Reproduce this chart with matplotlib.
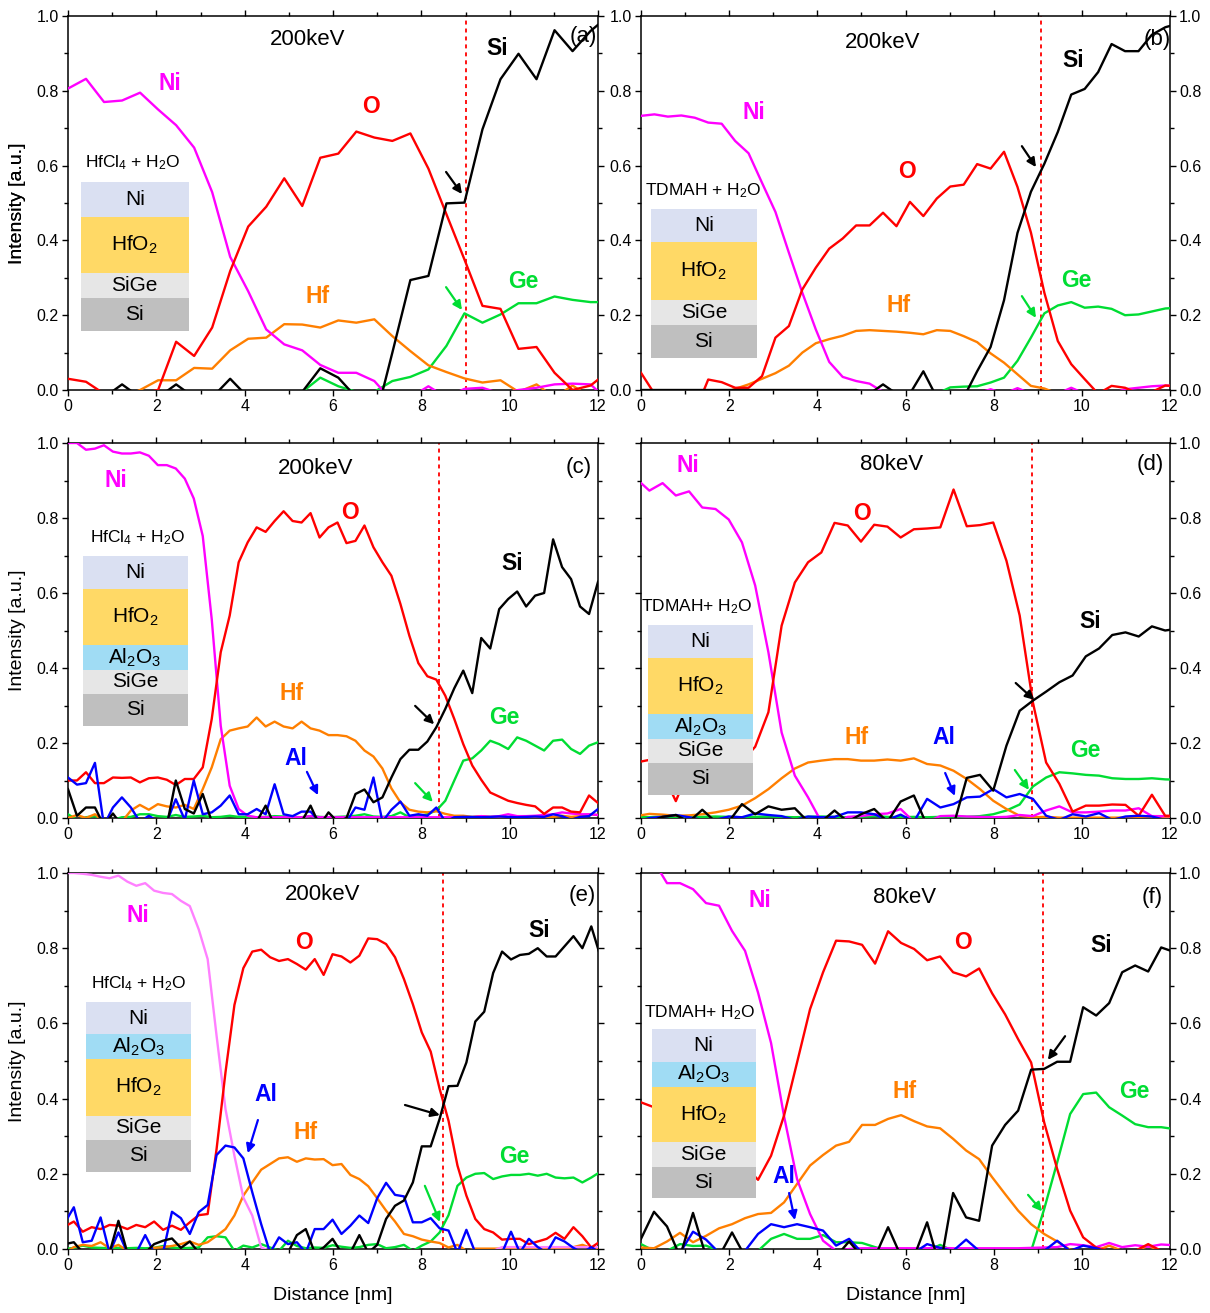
import numpy as np
import matplotlib
matplotlib.use('Agg')
import matplotlib.pyplot as plt
from matplotlib.patches import Rectangle
from matplotlib.ticker import MultipleLocator

plt.rcParams['font.family'] = ['Liberation Sans', 'DejaVu Sans']
plt.rcParams['mathtext.fontset'] = 'custom'
plt.rcParams['mathtext.rm'] = 'Liberation Sans'
plt.rcParams['mathtext.default'] = 'regular'

# ---------------- data ----------------
# (a) HfCl4, 200 keV ; sampling step 0.408 nm
a_step, a_off = 0.408, 0.0
a_ni = [0.806,0.832,0.770,0.774,0.795,0.750,0.708,0.648,0.529,0.356,
        0.264,0.162,0.122,0.106,0.067,0.046,0.046,0.024,-0.03,-0.02,
        0.010,-0.02,0.003,0.006,-0.01,0.000,0.006,0.015,0.017,0.015,-0.03]
a_o = [0.030,0.022,-0.01,-0.01,-0.01,0.000,0.129,0.091,0.167,0.318,
       0.437,0.490,0.566,0.492,0.621,0.632,0.691,0.675,0.666,0.686,
       0.592,0.470,0.349,0.225,0.217,0.110,0.115,0.046,0.000,0.012,0.050]
a_hf = [-0.02,-0.02,-0.02,-0.02,0.000,0.026,0.026,0.059,0.057,0.106,
        0.137,0.140,0.176,0.175,0.167,0.186,0.180,0.189,0.144,0.104,
        0.066,0.048,0.031,0.020,0.026,-0.005,0.015,-0.02,0.012,-0.02,-0.02]
a_si = [-0.02,-0.02,-0.02,0.015,-0.02,-0.02,0.015,-0.02,-0.02,0.030,
        -0.02,-0.02,-0.02,-0.005,0.058,0.033,-0.02,-0.09,0.100,0.294,
        0.305,0.499,0.501,0.697,0.831,0.899,0.831,0.962,0.906,0.960,1.000]
a_ge = [-0.02,-0.02,-0.02,-0.02,-0.02,-0.02,-0.02,-0.02,-0.02,-0.02,
        -0.02,-0.02,-0.02,-0.005,0.033,0.010,-0.005,-0.005,0.024,0.035,
        0.055,0.118,0.205,0.180,0.202,0.232,0.232,0.250,0.241,0.235,0.235]

# (b) TDMAH, 200 keV ; step 0.305 nm
b_step, b_off = 0.305, 0.0
b_ni = [0.733,0.737,0.731,0.734,0.728,0.715,0.712,0.666,0.633,0.554,
        0.476,0.367,0.260,0.162,0.075,0.035,0.024,0.017,-0.005,-0.01,
        -0.01,-0.01,-0.01,-0.01,-0.01,-0.01,0.002,-0.01,0.005,-0.01,
        -0.01,-0.01,0.006,-0.01,-0.01,-0.01,0.002,0.006,0.010,0.012,0.010]
b_o = [0.046,-0.01,-0.02,-0.02,-0.06,0.028,0.021,0.006,0.006,0.037,
       0.140,0.171,0.269,0.327,0.378,0.405,0.440,0.440,0.474,0.438,
       0.503,0.465,0.512,0.544,0.549,0.604,0.592,0.637,0.543,0.421,
       0.260,0.131,0.069,0.029,-0.01,0.011,0.006,-0.01,-0.005,0.012,0.010]
b_hf = [-0.01,-0.01,-0.01,-0.01,-0.01,-0.01,-0.01,0.003,0.015,0.030,
        0.045,0.065,0.100,0.125,0.136,0.145,0.158,0.160,0.158,0.156,
        0.153,0.149,0.160,0.158,0.144,0.128,0.098,0.073,0.042,0.011,
        0.004,-0.01,-0.01,-0.01,-0.01,-0.01,-0.01,-0.01,-0.01,-0.01,-0.01]
b_si = [0.0,0.0,0.0,0.0,0.0,0.0,0.0,0.0,0.0,0.0,
        0.0,0.0,0.0,0.0,0.0,0.0,0.0,-0.01,0.015,-0.01,
        -0.01,0.050,-0.02,-0.02,-0.02,0.050,0.115,0.240,0.420,0.530,
        0.605,0.690,0.790,0.805,0.850,0.925,0.906,0.906,0.950,0.970,0.980]
b_ge = [-0.01,-0.01,-0.01,-0.01,-0.01,-0.01,-0.01,-0.01,-0.01,-0.01,
        -0.01,-0.01,-0.01,-0.01,-0.01,-0.01,-0.01,-0.01,-0.01,-0.01,
        -0.01,-0.01,-0.01,0.007,0.009,0.010,0.020,0.033,0.078,0.140,
        0.205,0.226,0.235,0.220,0.223,0.217,0.200,0.202,0.210,0.218,0.220]

# (c) HfCl4 + Al2O3, 200 keV ; step 0.2034 nm
c_step, c_off = 0.2034, 0.0
c_ni = [1.000,1.000,0.982,0.985,0.994,0.977,0.972,0.972,0.975,0.966,
        0.941,0.941,0.932,0.905,0.852,0.752,0.530,0.246,0.086,0.024,
        0.006,0.002,0.002,0.002,0.002,0.002,0.002,0.005,0.002,0.002,
        0.002,0.002,0.002,0.002,0.002,0.002,0.002,0.002,0.002,0.002,
        0.002,0.002,0.002,0.002,0.002,0.002,0.005,0.003,0.005,0.010,
        0.005,0.005,0.006,0.008,0.010,0.015,0.012,0.010,0.010,0.008]
c_o = [0.100,0.100,0.122,0.093,0.093,0.108,0.107,0.108,0.095,0.106,
       0.108,0.102,0.088,0.104,0.104,0.135,0.264,0.442,0.540,0.682,
       0.735,0.775,0.763,0.792,0.818,0.792,0.788,0.813,0.748,0.775,
       0.788,0.733,0.739,0.780,0.722,0.682,0.646,0.571,0.486,0.413,
       0.378,0.369,0.326,0.264,0.197,0.140,0.102,0.068,0.057,0.046,
       0.040,0.035,0.031,0.011,0.028,0.028,0.017,0.015,0.060,0.040]
c_hf = [0.000,0.008,0.000,0.010,-0.01,-0.01,-0.01,0.020,0.035,0.022,
        0.037,0.031,0.028,0.035,0.024,0.077,0.135,0.210,0.233,0.239,
        0.244,0.268,0.244,0.257,0.244,0.239,0.257,0.239,0.233,0.221,
        0.221,0.218,0.206,0.180,0.164,0.132,0.079,0.042,0.022,0.017,
        0.015,0.018,0.011,0.006,0.006,0.003,0.005,0.003,0.003,0.002,
        0.003,0.003,0.002,0.003,0.003,0.006,0.003,0.005,0.010,0.008]
c_si = [0.077,0.006,0.028,0.028,-0.02,0.012,-0.02,-0.02,-0.02,-0.02,
        -0.02,-0.02,0.100,0.024,0.012,0.064,-0.01,-0.01,-0.01,-0.01,
        -0.01,-0.01,0.033,-0.02,-0.01,-0.01,-0.01,0.033,-0.02,0.015,
        -0.01,0.000,0.064,0.076,0.042,0.055,0.108,0.157,0.182,0.182,
        0.204,0.242,0.291,0.346,0.393,0.333,0.480,0.452,0.557,0.584,
        0.604,0.564,0.593,0.600,0.743,0.669,0.637,0.564,0.544,0.630]
c_al = [0.108,0.089,0.093,0.147,-0.02,0.028,0.055,0.028,-0.01,0.006,
        -0.01,-0.01,0.050,-0.005,0.100,0.010,0.015,0.033,0.060,0.010,
        0.010,0.024,0.010,0.090,0.010,0.005,0.017,0.017,-0.01,-0.01,
        -0.01,-0.01,0.028,0.022,0.108,-0.01,0.022,0.044,0.006,0.010,
        0.006,0.028,-0.01,0.002,0.003,0.003,0.002,0.003,0.004,0.003,
        0.002,0.003,0.004,0.003,0.010,0.005,-0.005,0.003,0.005,0.024]
c_ge = [0.010,-0.005,0.002,0.005,-0.005,-0.005,0.002,0.003,0.010,0.010,
        0.005,0.003,0.008,0.003,0.004,0.006,0.002,0.003,0.006,0.003,
        0.003,0.002,0.003,0.005,0.004,0.003,0.002,0.005,0.003,0.002,
        0.003,0.004,0.006,0.010,0.004,0.003,0.005,0.015,0.002,0.005,
        0.010,0.020,0.046,0.100,0.153,0.159,0.180,0.206,0.197,0.184,
        0.215,0.206,0.193,0.180,0.206,0.209,0.184,0.171,0.193,0.202]

# (d) TDMAH + Al2O3, 80 keV ; step 0.3 nm, first sample at -0.11 nm
d_step, d_off = 0.3, -0.11
d_ni = [0.905,0.873,0.893,0.860,0.871,0.828,0.824,0.796,0.735,0.620,
        0.442,0.228,0.113,0.055,-0.01,-0.01,0.003,0.005,0.010,0.012,
        0.024,-0.01,-0.01,0.005,0.006,0.004,0.003,0.002,0.003,0.008,
        0.005,0.020,0.031,0.015,0.015,0.017,0.020,0.020,0.026,0.005,0.005,0.005]
d_o = [0.148,0.155,0.120,0.045,0.130,0.120,0.130,0.140,0.150,0.190,
       0.282,0.513,0.628,0.682,0.708,0.787,0.780,0.737,0.782,0.777,
       0.748,0.770,0.772,0.775,0.876,0.778,0.781,0.788,0.686,0.540,
       0.308,0.148,0.091,0.017,0.033,0.033,0.036,0.035,0.006,0.062,0.006,0.006]
d_hf = [0.005,0.011,0.009,0.006,0.007,0.010,0.015,0.022,0.033,0.053,
        0.077,0.106,0.132,0.148,0.153,0.157,0.157,0.153,0.153,0.156,
        0.153,0.159,0.144,0.140,0.126,0.104,0.077,0.046,0.024,0.006,
        0.002,0.003,0.001,0.001,0.001,0.001,0.001,0.001,0.001,0.001,0.001,0.001]
d_si = [-0.01,-0.01,0.003,0.008,-0.01,0.022,-0.01,-0.01,0.037,0.010,
        0.031,0.022,0.026,-0.01,-0.01,0.020,-0.01,0.010,0.024,-0.01,
        0.044,0.060,-0.02,-0.02,-0.02,0.107,0.115,0.073,0.193,0.286,
        0.313,0.337,0.362,0.380,0.431,0.452,0.488,0.495,0.484,0.511,0.500,0.505]
d_al = [-0.01,0.000,0.003,0.008,0.002,-0.005,-0.005,0.004,0.002,0.012,
        0.008,0.005,-0.005,0.004,0.002,0.003,0.015,0.015,0.010,-0.005,
        0.009,-0.01,0.051,0.028,0.037,0.055,0.057,0.077,0.055,0.064,
        0.051,0.006,-0.005,0.010,0.004,0.013,-0.005,0.004,0.006,0.004,-0.005,-0.005]
d_ge = [0.003,0.002,0.004,0.003,0.002,0.003,0.004,0.003,0.002,0.003,
        0.004,0.003,0.002,0.003,0.004,0.003,0.002,0.003,0.005,0.003,
        0.002,0.003,0.002,0.003,0.004,0.003,0.005,0.010,0.020,0.036,
        0.084,0.108,0.122,0.119,0.115,0.113,0.106,0.104,0.104,0.106,0.103,0.102]

# (e) HfCl4 + Al2O3 cap, 200 keV ; step 0.202 nm, first sample at -0.07 nm
e_step, e_off = 0.202, -0.07
e_ni = [1.000,1.000,0.998,0.995,0.990,0.986,0.993,0.977,0.966,0.973,
        0.953,0.947,0.944,0.926,0.912,0.850,0.771,0.567,0.372,0.248,
        0.137,0.089,0.004,-0.005,-0.005,-0.005,-0.005,-0.005,-0.005,-0.005,
        -0.005,-0.005,-0.005,-0.005,-0.005,-0.005,-0.005,-0.005,-0.005,-0.005,
        -0.005,-0.005,-0.005,-0.005,-0.005,-0.005,-0.005,-0.005,-0.005,0.005,
        0.005,0.005,0.005,0.005,0.005,0.005,0.005,0.005,0.005,0.005,0.005]
e_o = [0.060,0.073,0.046,0.058,0.053,0.064,0.062,0.053,0.064,0.058,
       0.073,0.051,0.062,0.051,0.071,0.090,0.093,0.266,0.470,0.649,
       0.747,0.791,0.796,0.776,0.766,0.771,0.758,0.743,0.771,0.729,
       0.784,0.778,0.762,0.780,0.826,0.824,0.811,0.776,0.718,0.651,
       0.576,0.525,0.426,0.341,0.222,0.142,0.080,0.053,0.044,0.025,
       0.027,0.027,0.013,0.020,0.027,0.043,0.027,0.058,0.034,0.004,0.020]
e_hf = [-0.01,0.005,0.011,0.008,0.018,0.002,0.011,-0.005,-0.005,-0.005,
        0.003,0.005,0.008,0.013,0.020,0.011,0.018,0.035,0.053,0.089,
        0.142,0.177,0.211,0.226,0.241,0.244,0.232,0.241,0.238,0.239,
        0.223,0.226,0.197,0.186,0.167,0.135,0.102,0.073,0.040,0.034,
        0.025,0.020,0.016,0.004,0.011,-0.005,0.001,0.001,0.001,0.001,
        0.001,0.001,0.001,0.001,0.001,0.001,0.001,0.005,0.011,0.003,0.002]
e_si = [0.013,0.018,-0.01,-0.01,-0.01,-0.01,0.075,-0.01,-0.01,-0.01,
        0.013,0.022,0.028,0.003,0.020,-0.01,-0.01,-0.01,-0.01,-0.01,
        -0.01,-0.01,-0.01,-0.01,-0.01,-0.01,0.037,0.053,-0.01,0.004,
        0.027,-0.01,-0.01,0.037,-0.01,0.011,0.080,0.115,0.129,0.177,
        0.273,0.273,0.346,0.433,0.434,0.496,0.605,0.631,0.734,0.791,
        0.770,0.782,0.785,0.800,0.778,0.778,0.805,0.832,0.800,0.858,0.780]
e_al = [0.070,0.111,0.018,0.022,0.084,-0.01,0.044,-0.01,-0.01,0.037,
        -0.01,-0.01,0.099,0.082,0.040,0.098,0.117,0.250,0.275,0.270,
        0.241,0.151,0.066,-0.01,0.031,0.013,0.018,-0.01,0.053,0.053,
        0.078,0.040,0.062,0.089,0.069,0.135,0.176,0.144,0.140,0.071,
        0.071,0.082,0.055,0.049,-0.01,0.051,-0.01,-0.01,-0.01,-0.01,
        0.046,-0.01,0.027,0.005,-0.01,0.031,0.020,0.003,-0.01,0.005,-0.01]
e_ge = [0.000,0.003,0.009,0.004,0.003,0.002,0.003,0.002,0.003,0.002,
        0.003,0.008,0.004,0.002,0.003,0.004,0.031,0.034,0.031,-0.005,
        0.009,0.004,0.013,0.004,-0.005,0.022,0.008,0.002,0.004,0.003,
        0.010,0.006,0.003,0.005,0.011,0.013,0.002,0.005,0.011,-0.005,
        0.009,0.020,0.044,0.090,0.168,0.190,0.200,0.202,0.186,0.193,
        0.197,0.197,0.200,0.195,0.200,0.190,0.188,0.190,0.177,0.190,0.205]

# (f) TDMAH + Al2O3 cap, 80 keV ; step 0.295 nm
f_step, f_off = 0.295, 0.0
f_ni = [1.080,1.030,0.973,0.973,0.957,0.920,0.913,0.846,0.793,0.682,
        0.548,0.353,0.186,0.093,0.022,-0.005,0.000,0.002,0.002,0.002,
        0.002,0.002,0.002,0.003,0.002,0.002,0.002,0.002,0.002,0.002,
        0.003,0.004,0.005,0.013,0.010,0.005,0.016,0.005,0.010,0.006,0.012,0.010]
f_o = [0.390,0.377,0.350,0.330,0.300,0.280,0.260,0.240,0.220,0.184,
       0.248,0.355,0.496,0.638,0.736,0.820,0.818,0.809,0.759,0.845,
       0.814,0.798,0.768,0.778,0.736,0.725,0.746,0.680,0.624,0.558,
       0.496,0.337,0.213,0.102,0.031,0.004,-0.005,-0.005,-0.005,0.013,-0.005,-0.005]
f_hf = [0.004,0.002,0.020,0.043,0.018,0.035,0.055,0.066,0.082,0.093,
        0.096,0.124,0.173,0.222,0.250,0.275,0.285,0.330,0.330,0.346,
        0.356,0.340,0.326,0.321,0.293,0.262,0.239,0.191,0.146,0.102,
        0.066,0.040,0.020,-0.002,-0.005,-0.005,0.009,-0.005,-0.005,0.008,-0.005,-0.005]
f_si = [0.027,0.099,0.060,-0.02,0.096,-0.02,-0.02,0.044,-0.02,-0.02,
        -0.02,-0.02,-0.02,-0.02,-0.02,-0.02,0.020,-0.02,-0.02,0.058,
        -0.02,-0.02,0.071,-0.05,0.149,0.084,0.075,0.275,0.330,0.368,
        0.477,0.479,0.498,0.498,0.643,0.621,0.654,0.736,0.754,0.738,0.802,0.790]
f_al = [-0.01,-0.01,-0.01,-0.01,0.046,0.025,-0.01,-0.01,-0.005,0.040,
        0.066,0.058,0.066,0.058,0.049,0.009,0.027,-0.01,-0.01,-0.01,
        -0.01,-0.01,0.013,0.003,-0.005,0.025,-0.005,-0.005,-0.005,-0.005,
        -0.005,-0.005,0.022,-0.005,0.009,0.002,-0.01,-0.01,-0.01,-0.01,-0.01,-0.01]
f_ge = [0.013,-0.005,-0.005,0.013,0.008,0.009,-0.005,-0.005,-0.005,-0.005,
        0.027,0.040,0.027,0.027,0.037,0.018,0.018,0.016,0.005,-0.005,
        -0.005,-0.005,-0.005,0.011,-0.005,-0.005,-0.005,-0.005,-0.005,-0.005,
        -0.005,0.106,0.230,0.359,0.412,0.416,0.377,0.355,0.332,0.324,0.324,0.319]

x_ticks = [0, 2, 4, 6, 8, 10, 12]
y_ticks = [0.0, 0.2, 0.4, 0.6, 0.8, 1.0]

# ---------------- style ----------------
COL = {'Ni': '#FF00FF', 'O': '#FF0000', 'Hf': '#FF7F00', 'Si': '#000000',
       'Ge': '#00DD33', 'Al': '#0000FF'}
LAYER_COL = {'Ni': '#DAE0F2', 'HfO2': '#FFD966', 'Al2O3': '#A0DCF4',
             'SiGe': '#E6E6E6', 'Si': '#BFBFBF'}
LAYER_TXT = {'Ni': 'Ni', 'HfO2': r'HfO$_2$', 'Al2O3': r'Al$_2$O$_3$',
             'SiGe': 'SiGe', 'Si': 'Si'}

W, H = 1210, 1313
fig = plt.figure(figsize=(W / 100, H / 100), dpi=100)

def rect(l, r, t, b):
    return [l / W, 1 - b / H, (r - l) / W, (b - t) / H]

panels = [
    dict(pos=rect(68, 598, 16, 390), off=a_off, step=a_step,
         series=[('Ge', a_ge), ('Hf', a_hf), ('Ni', a_ni), ('O', a_o), ('Si', a_si)],
         labels={'Ni': (2.31, 0.82), 'O': (6.86, 0.757), 'Hf': (5.66, 0.249),
                 'Si': (9.71, 0.914), 'Ge': (10.3, 0.289)},
         title='200keV', tpos=(5.43, 0.936), letter='(a)', lpos=(11.66, 0.944), vline=9.01,
         arrows=[('Si', (8.56, 0.583), (8.92, 0.524)), ('Ge', (8.56, 0.275), (8.92, 0.214))],
         recipe=r'HfCl$_4$ + H$_2$O', rpos=(1.47, 0.607), bx=(0.29, 2.73),
         layers=[('Ni', 0.556, 0.463), ('HfO2', 0.463, 0.312), ('SiGe', 0.312, 0.245), ('Si', 0.245, 0.158)],
         left_lab=True, right_lab=False),
    dict(pos=rect(641, 1170, 16, 390), off=b_off, step=b_step,
         series=[('Ge', b_ge), ('Hf', b_hf), ('Ni', b_ni), ('O', b_o), ('Si', b_si)],
         labels={'Ni': (2.56, 0.743), 'O': (6.03, 0.583), 'Hf': (5.85, 0.227),
                 'Si': (9.8, 0.882), 'Ge': (9.87, 0.294)},
         title='200keV', tpos=(5.49, 0.93), letter='(b)', lpos=(11.7, 0.936), vline=9.07,
         arrows=[('Si', (8.64, 0.652), (8.96, 0.596)), ('Ge', (8.64, 0.251), (8.96, 0.193))],
         recipe=r'TDMAH + H$_2$O', rpos=(1.41, 0.532), bx=(0.22, 2.63),
         layers=[('Ni', 0.483, 0.396), ('HfO2', 0.396, 0.24), ('SiGe', 0.24, 0.173), ('Si', 0.173, 0.086)],
         left_lab=True, right_lab=True),
    dict(pos=rect(68, 598, 443, 818), off=c_off, step=c_step,
         series=[('Ge', c_ge), ('Hf', c_hf), ('Ni', c_ni), ('O', c_o), ('Al', c_al), ('Si', c_si)],
         labels={'Ni': (1.09, 0.899), 'O': (6.38, 0.816), 'Hf': (5.07, 0.333),
                 'Si': (10.05, 0.68), 'Ge': (9.89, 0.269), 'Al': (5.16, 0.16)},
         title='200keV', tpos=(5.61, 0.933), letter='(c)', lpos=(11.57, 0.936), vline=8.4,
         arrows=[('Si', (7.86, 0.299), (8.29, 0.25)), ('Ge', (7.86, 0.093), (8.26, 0.043)),
                 ('Al', (5.41, 0.123), (5.66, 0.061))],
         recipe=r'HfCl$_4$ + H$_2$O', rpos=(1.58, 0.747), bx=(0.33, 2.71),
         layers=[('Ni', 0.70, 0.611), ('HfO2', 0.611, 0.461), ('Al2O3', 0.461, 0.395),
                 ('SiGe', 0.395, 0.331), ('Si', 0.331, 0.246)],
         left_lab=True, right_lab=False),
    dict(pos=rect(641, 1170, 443, 818), off=d_off, step=d_step,
         series=[('Ge', d_ge), ('Hf', d_hf), ('Ni', d_ni), ('O', d_o), ('Al', d_al), ('Si', d_si)],
         labels={'Ni': (1.07, 0.941), 'O': (5.01, 0.811), 'Hf': (4.9, 0.216),
                 'Si': (10.19, 0.523), 'Ge': (10.07, 0.179), 'Al': (6.87, 0.216)},
         title='80keV', tpos=(5.69, 0.944), letter='(d)', lpos=(11.55, 0.944), vline=8.87,
         arrows=[('Si', (8.5, 0.36), (8.92, 0.315)), ('Ge', (8.48, 0.128), (8.8, 0.075)),
                 ('Al', (6.9, 0.12), (7.12, 0.059))],
         recipe=r'TDMAH+ H$_2$O', rpos=(1.27, 0.563), bx=(0.16, 2.54),
         layers=[('Ni', 0.515, 0.426), ('HfO2', 0.426, 0.277), ('Al2O3', 0.277, 0.211),
                 ('SiGe', 0.211, 0.147), ('Si', 0.147, 0.062)],
         left_lab=False, right_lab=True),
    dict(pos=rect(68, 598, 873, 1249), off=e_off, step=e_step,
         series=[('Ge', e_ge), ('Hf', e_hf), ('Ni', e_ni), ('O', e_o), ('Al', e_al), ('Si', e_si)],
         labels={'Ni': (1.58, 0.886), 'O': (5.34, 0.814), 'Hf': (5.37, 0.309),
                 'Si': (10.66, 0.846), 'Ge': (10.1, 0.245), 'Al': (4.48, 0.41)},
         title='200keV', tpos=(5.77, 0.944), letter='(e)', lpos=(11.64, 0.939), vline=8.49,
         arrows=[('Si', (7.63, 0.383), (8.42, 0.356)), ('Ge', (8.08, 0.168), (8.42, 0.072)),
                 ('Al', (4.3, 0.343), (4.07, 0.255))],
         recipe=r'HfCl$_4$ + H$_2$O', rpos=(1.6, 0.707), bx=(0.41, 2.78),
         layers=[('Ni', 0.656, 0.572), ('Al2O3', 0.572, 0.505), ('HfO2', 0.505, 0.355),
                 ('SiGe', 0.355, 0.291), ('Si', 0.291, 0.206)],
         left_lab=True, right_lab=False, ni_col='#FF80FF', xlabel=True),
    dict(pos=rect(641, 1170, 873, 1249), off=f_off, step=f_step,
         series=[('Ge', f_ge), ('Hf', f_hf), ('Ni', f_ni), ('O', f_o), ('Al', f_al), ('Si', f_si)],
         labels={'Ni': (2.7, 0.928), 'O': (7.3, 0.814), 'Hf': (5.97, 0.418),
                 'Si': (10.44, 0.806), 'Ge': (11.2, 0.418), 'Al': (3.24, 0.194)},
         title='80keV', tpos=(5.97, 0.936), letter='(f)', lpos=(11.6, 0.936), vline=9.12,
         arrows=[('Si', (9.62, 0.566), (9.23, 0.503)), ('Ge', (8.78, 0.144), (9.1, 0.1)),
                 ('Al', (3.36, 0.149), (3.49, 0.077))],
         recipe=r'TDMAH+ H$_2$O', rpos=(1.34, 0.628), bx=(0.24, 2.6),
         layers=[('Ni', 0.585, 0.498), ('Al2O3', 0.498, 0.432), ('HfO2', 0.432, 0.284),
                 ('SiGe', 0.284, 0.219), ('Si', 0.219, 0.135)],
         left_lab=False, right_lab=True, xlabel=True),
]

REG = ['Liberation Sans', 'DejaVu Sans']

for p in panels:
    ax = fig.add_axes(p['pos'])
    for name, ys in p['series']:
        ys = np.asarray(ys)
        xs = p['off'] + p['step'] * np.arange(len(ys))
        col = COL[name]
        if name == 'Ni' and 'ni_col' in p:
            col = p['ni_col']
        ax.plot(xs, ys, color=col, lw=1.7, zorder=3)
    ax.set_xlim(0, 12)
    ax.set_ylim(0, 1.0)
    ax.set_xticks(x_ticks)
    ax.set_yticks(y_ticks)
    ax.xaxis.set_minor_locator(MultipleLocator(1))
    ax.yaxis.set_minor_locator(MultipleLocator(0.1))
    ax.tick_params(which='both', direction='out', top=True, right=True, left=True, bottom=True,
                   labelleft=p['left_lab'], labelright=p['right_lab'], labelsize=11.5,
                   width=1.0, pad=2)
    ax.tick_params(which='major', length=4.5)
    ax.tick_params(which='minor', length=3)
    for s in ax.spines.values():
        s.set_linewidth(1.1)
    ax.axvline(p['vline'], color='#FF0000', lw=1.3, ls=(0, (2.2, 2.2)), zorder=2)
    # element labels
    for name, (lx, ly) in p['labels'].items():
        ax.text(lx, ly, name, color=COL[name], fontsize=16.5, fontweight='bold', ha='center',
                va='center', family=REG, zorder=7)
    ax.text(*p['tpos'], p['title'], fontsize=16, ha='center', va='center', family=REG, zorder=7)
    ax.text(*p['lpos'], p['letter'], fontsize=16, ha='center', va='center', family=REG, zorder=7)
    for name, tail, head in p['arrows']:
        ax.annotate('', xy=head, xytext=tail,
                    arrowprops=dict(arrowstyle='-|>', color=COL[name], lw=1.6,
                                    mutation_scale=13, shrinkA=0, shrinkB=0), zorder=8)
    # inset layer stack
    x0, x1 = p['bx']
    for lay, top, bot in p['layers']:
        ax.add_patch(Rectangle((x0, bot), x1 - x0, top - bot, facecolor=LAYER_COL[lay],
                               edgecolor='none', zorder=5))
        ax.text((x0 + x1) / 2, (top + bot) / 2, LAYER_TXT[lay], fontsize=15, ha='center',
                va='center', family=REG, zorder=6)
    ax.text(*p['rpos'], p['recipe'], fontsize=12.5, ha='center', va='center', family=REG, zorder=6)
    if p.get('xlabel'):
        ax.set_xlabel('Distance [nm]', fontsize=14, family=REG, labelpad=10)
    if p['left_lab']:
        cy = p['pos'][1] + p['pos'][3] / 2
        fig.text(18 / W, cy, 'Intensity [a.u.]', rotation=90, fontsize=14, family=REG,
                 ha='center', va='center')

fig.savefig('out.png', dpi=100)
